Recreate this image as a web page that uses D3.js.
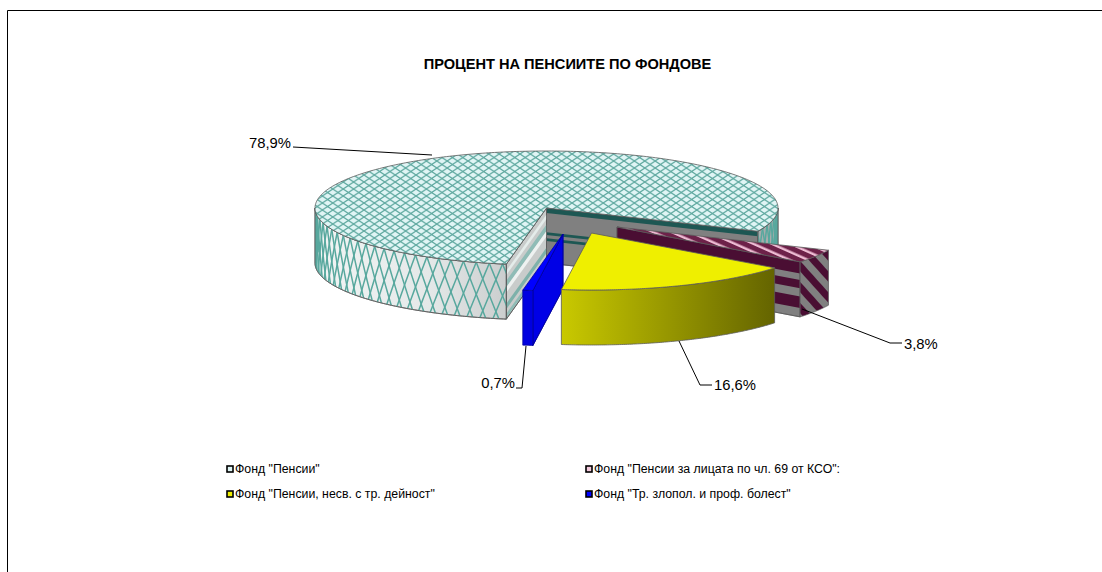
<!DOCTYPE html>
<html>
<head>
<meta charset="utf-8">
<script src="https://cdn.jsdelivr.net/npm/d3@7"></script>
<style>
  html, body { margin: 0; padding: 0; background: #fff; }
  text { font-family: "Liberation Sans", Arial, sans-serif; fill: #000; }
</style>
</head>
<body>
<svg id="chart" width="1102" height="572"></svg>
<script>
// data
const categories = [
    'Фонд "Пенсии"',
    'Фонд "Пенсии за лицата по чл. 69 от КСО":',
    'Фонд "Пенсии, несв. с тр. дейност"',
    'Фонд "Тр. злопол. и проф. болест"'
];
const shares = [78.9, 3.8, 16.6, 0.7];
const title = 'ПРОЦЕНТ НА ПЕНСИИТЕ ПО ФОНДОВЕ';

const width = 1102, height = 572;
const rad = Math.PI / 180;

// pie geometry: ellipse of the tilted disc, wall height, exploded offsets
const cx = 546.5, cy = 208, rx = 231.5, ry = 57, depth = 55;
const explode = [[0, 0], [70.5, 19], [45, 25], [16.5, 26]];
const formatShare = d => d.toFixed(1).replace('.', ',') + '%';

const svg = d3.select('#chart');
const defs = svg.append('defs');

const slices = d3.pie().sort(null).value(d => d)
    .startAngle(190 * rad).endAngle(550 * rad)(shares);

// screen position of an angle on the rim, v = 0 top of the wall, 1 bottom
const rim = (i, a, v = 0) => [
    cx + explode[i][0] + rx * Math.sin(a),
    cy + explode[i][1] - ry * Math.cos(a) + depth * v
];
const apex = (i, v = 0) => [cx + explode[i][0], cy + explode[i][1] + depth * v];
const line = d3.line();
const arcPoints = (i, a0, a1, v = 0) =>
    d3.range(0, 121).map(k => rim(i, a0 + (a1 - a0) * k / 120, v));

// ----- fills
function lattice(id, w, h, bg, stroke, sw) {
    const p = defs.append('pattern').attr('id', id)
        .attr('patternUnits', 'userSpaceOnUse').attr('width', w).attr('height', h);
    p.append('rect').attr('width', w).attr('height', h).attr('fill', bg);
    p.append('path').attr('d', `M0,0L${w},${h}M${w},0L0,${h}`)
        .attr('stroke', stroke).attr('stroke-width', sw).attr('fill', 'none');
}
function stripes(id, size, share, bg, fg, angle) {
    const p = defs.append('pattern').attr('id', id)
        .attr('patternUnits', 'userSpaceOnUse').attr('width', size).attr('height', size)
        .attr('patternTransform', `rotate(${angle})`);
    p.append('rect').attr('width', size).attr('height', size).attr('fill', bg);
    p.append('rect').attr('width', size).attr('height', size * share).attr('fill', fg);
}
lattice('topLattice', 10.4, 7, '#e0f5f5', '#5fa9a0', 1.25);
stripes('maroonTop', 7.5, 0.68, '#eebcd4', '#6d2149', 24);
stripes('maroonWall', 14, 0.5, '#808080', '#4a0e33', 48);

function gradient(id, stops) {
    const g = defs.append('linearGradient').attr('id', id);
    stops.forEach(([o, c]) => g.append('stop').attr('offset', o).attr('stop-color', c));
}
gradient('mainWall', [[0, '#f2f5f5'], [0.6, '#e4e8e8'], [1, '#cbcece']]);
gradient('yellowWall', [[0, '#c9c900'], [1, '#646400']]);

const edge = '#5a5a5a';
function poly(g, pts, fill, stroke = edge) {
    return g.append('path').attr('d', line(pts) + 'Z').attr('fill', fill)
        .attr('stroke', stroke).attr('stroke-width', 0.8).attr('stroke-linejoin', 'round');
}
const wallShape = (i, a0, a1) =>
    arcPoints(i, a0, a1).concat(arcPoints(i, a1, a0, 1));

// flat cut face between the apex and the rim, with bands running along it
function cutFace(g, i, a, fill, bands, stroke = edge) {
    const face = [apex(i), rim(i, a), rim(i, a, 1), apex(i, 1)];
    poly(g, face, fill, stroke);
    bands.forEach(([v0, v1, c]) => {
        g.append('path')
            .attr('d', line([apex(i, v0), rim(i, a, v0), rim(i, a, v1), apex(i, v1)]) + 'Z')
            .attr('fill', c);
    });
    poly(g, face, 'none', stroke);
}

// curved wall with a diamond lattice laid on the cylinder
function latticeWall(g, i, a0, a1, id, fill) {
    const shape = wallShape(i, a0, a1);
    defs.append('clipPath').attr('id', id)
        .append('path').attr('d', line(shape) + 'Z');
    poly(g, shape, fill);
    const period = 3.36 * rad, rise = 1.72 * period;
    const lo = Math.min(a0, a1) - rise, hi = Math.max(a0, a1) + rise;
    const lines = g.append('g').attr('clip-path', `url(#${id})`)
        .attr('fill', 'none').attr('stroke', '#58a89e').attr('stroke-width', 1.5);
    d3.range(lo, hi, period).forEach(a => {
        [1, -1].forEach(dir => {
            const pts = d3.range(0, 13).map(k => {
                const v = k / 12;
                return rim(i, a + dir * rise * v, v);
            });
            lines.append('path').attr('d', line(pts));
        });
    });
    poly(g, shape, 'none');
}

// frame
svg.append('path').attr('d', `M7.5,${height}V10.5H${width}`)
    .attr('fill', 'none').attr('stroke', '#000').attr('stroke-width', 1);

svg.append('text').attr('x', 567.5).attr('y', 69).attr('text-anchor', 'middle')
    .attr('font-size', 14.6).attr('font-weight', 'bold').text(title);

// ----- main slice
const s0 = slices[0];
const g0 = svg.append('g');
cutFace(g0, 0, s0.endAngle, '#808080', [
    [0, 0.09, '#1d5753'], [0.44, 0.49, '#1d5753'], [0.55, 0.6, '#1d5753']
]);
cutFace(g0, 0, s0.startAngle, '#c9cccb', [
    [0.12, 0.2, '#e4ecea'], [0.3, 0.42, '#8fbcb6'], [0.42, 0.52, '#eef2f1'],
    [0.72, 0.82, '#7db1aa'], [0.9, 0.98, '#8fbcb6']
]);
latticeWall(g0, 0, s0.startAngle, 270 * rad, 'wallLeft', 'url(#mainWall)');
latticeWall(g0, 0, 450 * rad, s0.endAngle, 'wallRight', '#a8adad');
poly(g0, [apex(0)].concat(d3.range(0, 361).map(k =>
    rim(0, s0.startAngle + (s0.endAngle - s0.startAngle) * k / 360))), 'url(#topLattice)');

// ----- maroon slice
const s1 = slices[1];
const g1 = svg.append('g');
cutFace(g1, 1, s1.endAngle, '#808080', [
    [0, 0.21, '#4a0e33'], [0.33, 0.48, '#4a0e33'], [0.63, 0.84, '#4a0e33']
]);
poly(g1, wallShape(1, s1.startAngle, s1.endAngle), 'url(#maroonWall)');
poly(g1, [apex(1)].concat(arcPoints(1, s1.startAngle, s1.endAngle)), 'url(#maroonTop)');

// ----- blue slice
const s3 = slices[3];
const g3 = svg.append('g');
cutFace(g3, 3, s3.startAngle, '#0000e6', [], '#0000a0');
poly(g3, wallShape(3, s3.startAngle, s3.endAngle), '#0000e0', '#0000a0');
poly(g3, [apex(3)].concat(arcPoints(3, s3.startAngle, s3.endAngle)), '#0000ff', '#0000a0');

// ----- yellow slice
const s2 = slices[2];
const g2 = svg.append('g');
poly(g2, wallShape(2, s2.endAngle, s2.startAngle), 'url(#yellowWall)');
poly(g2, [apex(2)].concat(arcPoints(2, s2.startAngle, s2.endAngle)), '#efef00');

// ----- leader lines and value labels
const labelLayout = [
    { pts: [[293, 147], [432, 155]], x: 291, y: 147.5, anchor: 'end' },
    { pts: [[802, 309], [890, 343], [902, 343]], x: 904, y: 348.5, anchor: 'start' },
    { pts: [[679, 341], [700, 385], [712, 385]], x: 714, y: 390, anchor: 'start' },
    { pts: [[526, 346], [522, 388], [516, 388]], x: 515, y: 388, anchor: 'end' }
];
shares.forEach((d, i) => {
    const l = labelLayout[i];
    svg.append('path').attr('d', line(l.pts)).attr('fill', 'none')
        .attr('stroke', '#000').attr('stroke-width', 1);
    svg.append('text').attr('x', l.x).attr('y', l.y).attr('text-anchor', l.anchor)
        .attr('font-size', 14.8).text(formatShare(d));
});

// ----- legend, two columns filled row by row
const legendFill = ['#def4f4', '#f3c9dc', '#efef00', '#0000ff'];
const legendX = d3.scalePoint().domain([0, 1]).range([227, 586]);
const legendY = d3.scalePoint().domain([0, 1]).range([469, 494]);
const legend = svg.append('g').selectAll('g').data(categories).join('g')
    .attr('transform', (d, i) => `translate(${legendX(i % 2)},${legendY(Math.floor(i / 2))})`);
legend.append('rect').attr('x', 0).attr('y', -3).attr('width', 6).attr('height', 6)
    .attr('fill', (d, i) => legendFill[i]).attr('stroke', '#000').attr('stroke-width', 1.6);
legend.append('text').attr('x', 8).attr('y', 4.2).attr('font-size', 12.3).text(d => d);
</script>
</body>
</html>
